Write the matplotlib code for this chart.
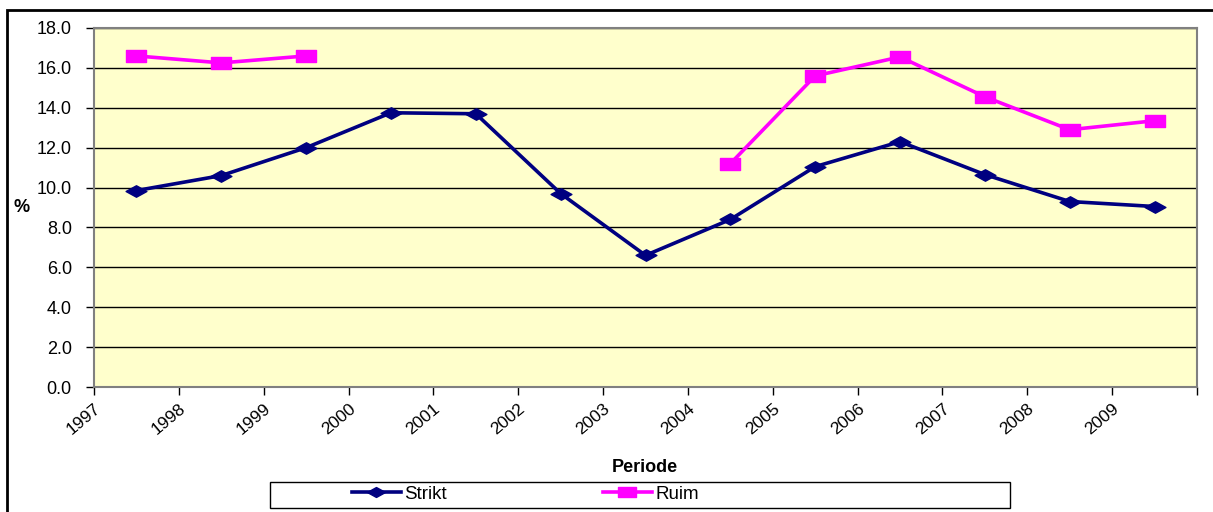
import numpy as np
import matplotlib
matplotlib.use("Agg")
import matplotlib.pyplot as plt
from matplotlib.path import Path
from matplotlib.patches import Rectangle
from matplotlib.lines import Line2D
import matplotlib.transforms as mtrans

years = ["1997", "1998", "1999", "2000", "2001", "2002", "2003",
         "2004", "2005", "2006", "2007", "2008", "2009"]
strikt = [9.85, 10.6, 12.0, 13.75, 13.7, 9.7, 6.6, 8.4, 11.05, 12.3, 10.65, 9.3, 9.05]
ruim = [16.6, 16.25, 16.6, np.nan, np.nan, np.nan, np.nan, 11.2, 15.6, 16.55, 14.55, 12.9, 13.35]
yticks = [0, 2, 4, 6, 8, 10, 12, 14, 16, 18]

plt.rcParams['font.family'] = ['Liberation Sans', 'DejaVu Sans']

W, H = 1213, 512
fig = plt.figure(figsize=(W / 100, H / 100), dpi=100)
ax = fig.add_axes([94 / W, 1 - 387 / H, (1197 - 94) / W, (387 - 28) / H])
ax.set_facecolor('#FFFFCC')

# custom wide markers (stretched look)
rect = Path([(-1, -0.6), (1, -0.6), (1, 0.6), (-1, 0.6), (-1, -0.6)],
            [Path.MOVETO, Path.LINETO, Path.LINETO, Path.LINETO, Path.CLOSEPOLY])
diam = Path([(-1, 0), (0, 0.55), (1, 0), (0, -0.55), (-1, 0)],
            [Path.MOVETO, Path.LINETO, Path.LINETO, Path.LINETO, Path.CLOSEPOLY])

x = np.arange(len(years))
ax.plot(x, strikt, color='#000080', lw=2.6, marker=diam, ms=15, zorder=3)
ax.plot(x, ruim, color='#FF00FF', lw=2.6, marker=rect, ms=15, zorder=3)

ax.set_xlim(-0.5, len(years) - 0.5)
ax.set_ylim(0, 18)
ax.set_yticks(yticks)
ax.set_yticklabels([f"{v:.1f}" for v in yticks], fontsize=13)
ax.yaxis.grid(True, color='black', lw=1)
ax.set_axisbelow(True)

tick_pos = np.arange(len(years) + 1) - 0.5
ax.set_xticks(tick_pos)
ax.set_xticklabels(years + [""], rotation=40, ha='right', va='top',
                   rotation_mode='anchor', fontsize=12.5)
offset = mtrans.ScaledTranslation(10 / 100, 0, fig.dpi_scale_trans)
for lab in ax.get_xticklabels():
    lab.set_transform(lab.get_transform() + offset)

ax.tick_params(axis='both', direction='out', length=6, width=1, color='black')
ax.tick_params(axis='y', pad=10)
ax.tick_params(axis='x', pad=4)
for s in ax.spines.values():
    s.set_color('#808080')
    s.set_linewidth(1.5)

fig.text(645 / W, 1 - 468 / H, "Periode", ha='center', va='center',
         fontsize=13, fontweight='bold')
fig.text(22 / W, 1 - 208 / H, "%", ha='center', va='center',
         fontsize=13, fontweight='bold')

# outer chart border
fig.patches.append(Rectangle((7 / W, -0.1), 1.2, 1 - 10 / H + 0.1,
                             transform=fig.transFigure, fill=False,
                             edgecolor='black', lw=2))
# legend box
fig.patches.append(Rectangle((270 / W, 1 - 508 / H), 740 / W, 26 / H,
                             transform=fig.transFigure, fill=False,
                             edgecolor='black', lw=1))
handles = [Line2D([], [], color='#000080', lw=2.6, marker=diam, ms=13),
           Line2D([], [], color='#FF00FF', lw=2.6, marker=rect, ms=13)]
fig.legend(handles, ["Strikt", "Ruim"], ncol=2, frameon=False,
           loc='center left', bbox_to_anchor=(352 / W, 1 - 494 / H),
           fontsize=13.5, handlelength=2.6, handletextpad=0.2,
           columnspacing=8.3, borderpad=0, borderaxespad=0)

fig.savefig("out.png", dpi=100)
